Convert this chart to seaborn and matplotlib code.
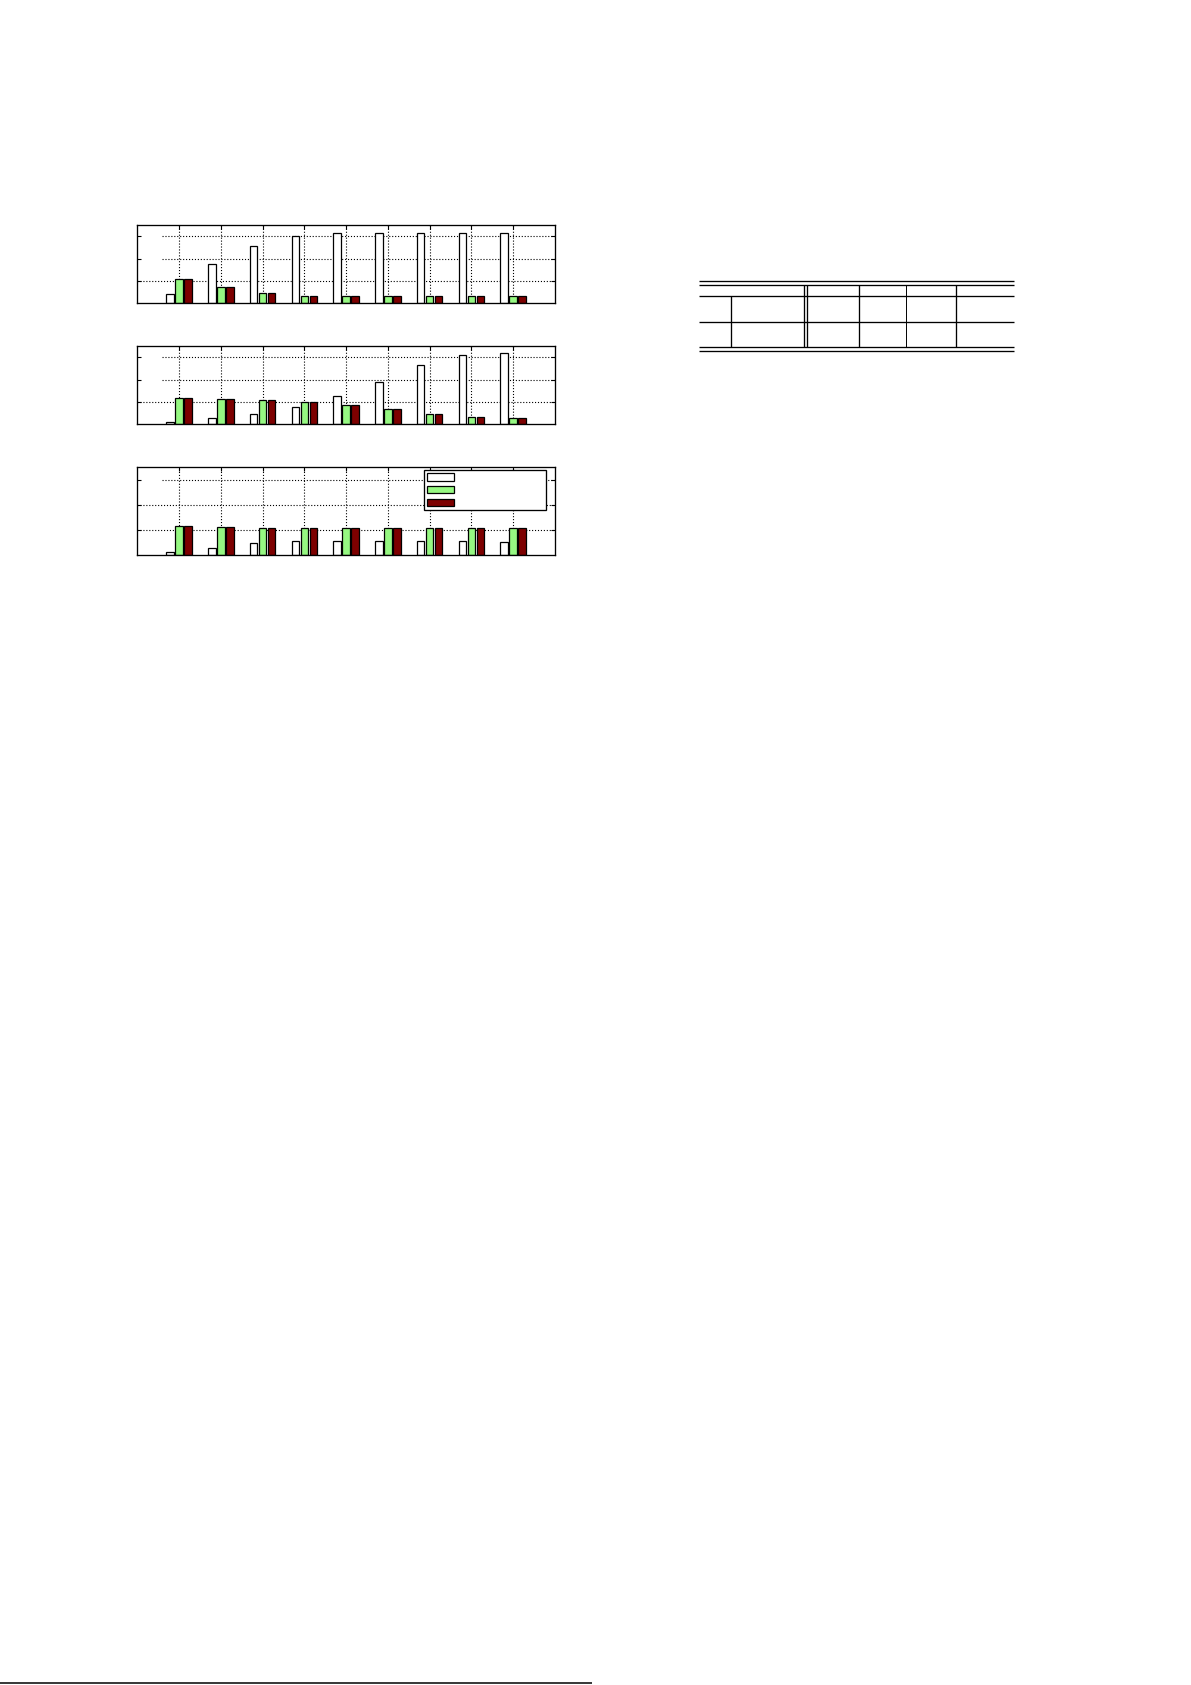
import matplotlib
matplotlib.use("Agg")
import matplotlib.pyplot as plt
import seaborn as sns
import pandas as pd

sns.set_theme(style="white")
plt.rcParams['font.family'] = ['DejaVu Sans']

# --- data (one tick step = 1 unit) ---
groups = ['1', '2', '3', '4', '5', '6', '7', '8', '9']
series = ['A', 'B', 'C']
colours = {'A': '#ffffff', 'B': '#96f882', 'C': '#7d0000'}

p1_a = [0.40, 1.76, 2.57, 3.00, 3.15, 3.15, 3.15, 3.15, 3.15]
p1_b = [1.07, 0.73, 0.45, 0.31, 0.31, 0.31, 0.31, 0.31, 0.31]
p1_c = [1.07, 0.73, 0.45, 0.31, 0.31, 0.31, 0.31, 0.31, 0.31]

p2_a = [0.10, 0.28, 0.46, 0.77, 1.26, 1.89, 2.64, 3.09, 3.18]
p2_b = [1.17, 1.13, 1.08, 0.99, 0.86, 0.68, 0.46, 0.33, 0.28]
p2_c = [1.17, 1.13, 1.08, 0.99, 0.86, 0.68, 0.46, 0.33, 0.28]

p3_a = [0.11, 0.30, 0.50, 0.58, 0.58, 0.58, 0.58, 0.58, 0.54]
p3_b = [1.18, 1.14, 1.08, 1.08, 1.08, 1.08, 1.08, 1.08, 1.08]
p3_c = [1.18, 1.14, 1.08, 1.08, 1.08, 1.08, 1.08, 1.08, 1.08]

y_ticks = [1, 2, 3]


def make_df(a, b, c):
    rows = []
    for vals, s in zip([a, b, c], series):
        for g, v in zip(groups, vals):
            rows.append({'group': g, 'series': s, 'value': v})
    return pd.DataFrame(rows)


fig = plt.figure(figsize=(11.91, 16.85), dpi=100)

# page overlay in pixel units (table rules + footnote rule)
page = fig.add_axes([0, 0, 1, 1], zorder=-1)
page.set_xlim(0, 1191)
page.set_ylim(1685, 0)
page.axis('off')

# axes boxes: left, bottom, width, height (figure fraction)
boxes = [
    [0.1153, 0.8200, 0.3507, 0.0465],
    [0.1153, 0.7482, 0.3507, 0.0465],
    [0.1153, 0.6705, 0.3507, 0.0522],
]
panels = [(p1_a, p1_b, p1_c), (p2_a, p2_b, p2_c), (p3_a, p3_b, p3_c)]
# where the dotted horizontal grid lines begin (for y = 1, 2, 3)
grid_start = [[-1, -0.42, -0.42], [-1, -0.42, -0.42], [-1, -1, -0.42]]

for i, (box, vals) in enumerate(zip(boxes, panels)):
    ax = fig.add_axes(box)
    df = make_df(*vals)
    sns.barplot(data=df, x='group', y='value', hue='series', order=groups,
                hue_order=series, palette=colours, width=0.645, gap=0.16,
                edgecolor='black', linewidth=0.9, saturation=1,
                legend=False, ax=ax, zorder=2)
    ax.set_xlim(-1, 9)
    ax.set_ylim(0, 3.5)
    ax.set_xticks(range(len(groups)))
    ax.set_yticks(y_ticks)
    ax.set_xticklabels([])
    ax.set_yticklabels([])
    ax.set_xlabel('')
    ax.set_ylabel('')
    ax.xaxis.grid(True, linestyle=':', color='black', linewidth=0.8)
    ax.set_axisbelow(True)
    for y, x0 in zip(y_ticks, grid_start[i]):
        ax.hlines(y, x0, 9, linestyles=':', colors='black', linewidth=0.8, zorder=0.5)
    ax.tick_params(direction='in', length=3, width=0.8, top=True, right=True,
                   bottom=True, left=True, colors='black')
    for sp in ax.spines.values():
        sp.set_color('black')
        sp.set_linewidth(0.95)
    ax.set_facecolor('white')

    if i == 2:
        handles = [c.patches[0] for c in ax.containers]
        leg = ax.legend(handles, [' '] * 3, loc='upper left',
                        bbox_to_anchor=(0.6866, 0.969, 0.291, 0), mode='expand',
                        borderaxespad=0, fontsize=6, handlelength=3.2,
                        handleheight=0.95, labelspacing=0.45, borderpad=0.35,
                        handletextpad=0.5, fancybox=False, framealpha=1,
                        edgecolor='black')
        leg.get_frame().set_linewidth(0.95)
        leg.set_zorder(5)

# empty table (ruled lines only)
tab_left, tab_right = 699, 1013.5
h_rules = [280.7, 284.7, 296.5, 321.7, 346.7, 350.8]
page.hlines(h_rules, tab_left, tab_right, colors='black', linewidth=0.95)
page.vlines([730.7], 296.5, 346.7, colors='black', linewidth=0.95)
page.vlines([803.7, 807.3, 859, 955.5], 284.7, 346.7, colors='black', linewidth=0.95)
page.vlines([905.7], 284.7, 346.7, colors='black', linewidth=0.7)

# footnote rule at page bottom
page.hlines(1683.5, 0, 591.5, colors='black', linewidth=1.1)

fig.savefig('out.png', dpi=100, facecolor='white')
